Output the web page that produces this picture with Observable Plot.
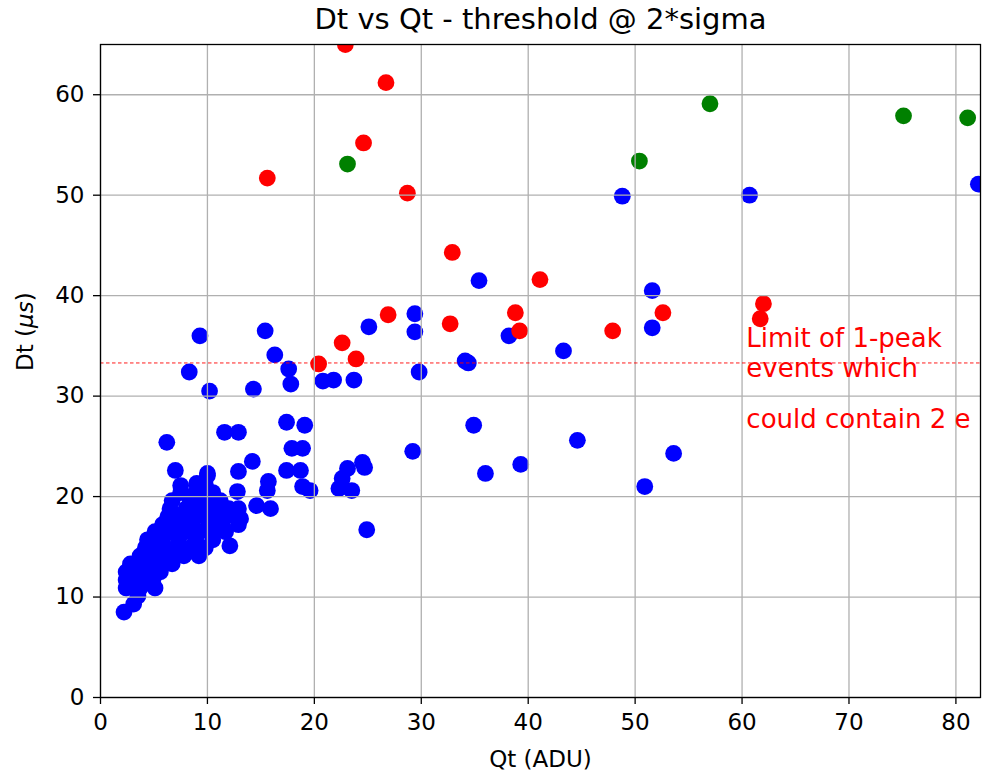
<!DOCTYPE html>
<html>
<head>
<meta charset="utf-8">
<script src="https://cdn.jsdelivr.net/npm/d3@7"></script>
<script src="https://cdn.jsdelivr.net/npm/@observablehq/plot@0.6"></script>
<style>
  body { margin: 0; background: #fff; }
  #chart svg { display: block; }
</style>
</head>
<body>
<div id="chart"></div>
<script>
// ---- Data ----
const blueQt = [
  48.8, 60.7, 82.1, 51.6, 51.6, 53.6, 50.9, 35.4, 25.1, 29.4, 29.4, 38.2, 43.3, 34.1, 34.4, 29.8, 34.9, 36.0, 39.3, 44.6, 29.2, 24.9,
  9.3, 8.3, 10.2, 15.4, 16.3, 17.6, 17.8, 14.3, 20.8, 21.8, 23.7,
  17.4, 19.1, 17.9, 18.9, 17.4, 18.7, 18.9, 19.6,
  24.5, 24.7, 23.1, 22.6, 22.3, 23.5,
  6.2, 11.6, 12.9, 14.2, 12.9, 15.7, 15.6, 12.8, 14.6, 15.9, 7.0, 10.0, 7.5, 9.0, 10.4, 13.1, 12.1,
  2.2, 3.1, 3.5, 2.4, 3.7, 5.1, 2.4, 3.7, 4.9, 2.4, 3.6, 4.7, 5.6, 2.8, 4.2, 5.4, 6.7,
  3.7, 5.1, 6.5, 7.8, 9.2, 4.2, 5.6, 7.0, 8.4, 9.8, 4.4, 5.8, 7.3, 8.9, 10.5,
  5.1, 6.5, 7.9, 9.3, 10.7, 11.7, 5.8, 7.3, 8.6, 10.1, 11.4, 12.9,
  6.3, 7.6, 8.9, 10.3, 11.7, 6.5, 8.0, 9.3, 10.7, 12.0, 12.9,
  6.7, 8.4, 9.8, 11.2, 7.5, 8.9, 10.5, 9.8, 10.0
];
const blueDt = [
  49.9, 50.0, 51.1, 40.5, 36.8, 24.3, 21.0, 41.5, 36.9, 38.2, 36.4, 36.0, 34.5, 33.5, 33.3, 32.4, 27.1, 22.3, 23.2, 25.6, 24.5, 16.7,
  36.0, 32.4, 30.5, 36.5, 34.1, 32.7, 31.2, 30.7, 31.5, 31.6, 31.6,
  27.4, 27.1, 24.8, 24.8, 22.6, 22.6, 21.0, 20.6,
  23.4, 22.9, 22.8, 21.8, 20.8, 20.6,
  25.4, 26.4, 26.4, 23.5, 22.5, 21.5, 20.6, 20.5, 19.1, 18.8, 22.6, 22.3, 21.1, 21.3, 20.0, 17.8, 15.1,
  8.5, 9.3, 10.1, 10.9, 10.9, 10.9, 11.7, 11.7, 11.7, 12.5, 12.5, 12.5, 12.5, 13.3, 13.3, 13.3, 13.3,
  14.1, 14.1, 14.1, 14.1, 14.1, 14.9, 14.9, 14.9, 14.9, 14.9, 15.7, 15.7, 15.7, 15.7, 15.7,
  16.5, 16.5, 16.5, 16.5, 16.5, 16.5, 17.2, 17.2, 17.2, 17.2, 17.2, 17.2,
  18.0, 18.0, 18.0, 18.0, 18.0, 18.8, 18.8, 18.8, 18.8, 18.8, 18.8,
  19.6, 19.6, 19.6, 19.6, 20.4, 20.4, 20.4, 21.2, 22.1
];
const redQt = [22.9, 26.7, 24.6, 15.6, 28.7, 32.9, 41.1, 26.9, 32.7, 38.8, 39.2, 47.9, 52.6, 62.0, 61.7, 22.6, 23.9, 20.4];
const redDt = [65.0, 61.2, 55.2, 51.7, 50.2, 44.3, 41.6, 38.1, 37.2, 38.3, 36.5, 36.5, 38.3, 39.2, 37.7, 35.3, 33.7, 33.2];
const greenQt = [23.1, 50.4, 57.0, 75.1, 81.1];
const greenDt = [53.1, 53.4, 59.1, 57.9, 57.7];

const xTicks = [0, 10, 20, 30, 40, 50, 60, 70, 80];
const yTicks = [0, 10, 20, 30, 40, 50, 60];
const limitDt = 33.3;
const noteQt = 60.4;
const noteLines = ["Limit of 1-peak", "events which", "could contain 2 e"];
const noteDt = [34.9, 31.9, 26.85];
const titleText = "Dt vs Qt - threshold @ 2*sigma";
const xLabel = "Qt (ADU)";
const yLabel = "Dt (μs)";

// ---- Tables built from the arrays ----
const toRows = (qs, ds) => qs.map((q, i) => ({qt: q, dt: ds[i]}));
const blue = toRows(blueQt, blueDt);
const red = toRows(redQt, redDt);
const green = toRows(greenQt, greenDt);
const notes = noteLines.map((t, i) => ({t, qt: noteQt, dt: noteDt[i]}));

const font = "DejaVu Sans, Liberation Sans, sans-serif";

const chart = Plot.plot({
  width: 982,
  height: 775,
  marginLeft: 100,
  marginRight: 2,
  marginTop: 44,
  marginBottom: 78,
  style: {fontFamily: font, fontSize: "23px", color: "#000", background: "#fff", overflow: "hidden"},
  x: {domain: [0, 82.3]},
  y: {domain: [0, 65]},
  marks: [
    Plot.dot(blue, {x: "qt", y: "dt", r: 8.4, fill: "#0000ff", stroke: null, clip: true}),
    Plot.dot(red, {x: "qt", y: "dt", r: 8.4, fill: "#ff0000", stroke: null, clip: true}),
    Plot.dot(green, {x: "qt", y: "dt", r: 8.4, fill: "#008000", stroke: null, clip: true}),
    Plot.gridX(xTicks, {stroke: "#b0b0b0", strokeOpacity: 1, strokeWidth: 1.3}),
    Plot.gridY(yTicks, {stroke: "#b0b0b0", strokeOpacity: 1, strokeWidth: 1.3}),
    Plot.ruleY([limitDt], {stroke: "#ff0000", strokeWidth: 0.9, strokeDasharray: "3.5,2.5"}),
    Plot.frame({stroke: "#000", strokeWidth: 1.3}),
    Plot.axisX(xTicks, {tickSize: 7, tickPadding: 9, label: null, fontSize: 23, strokeWidth: 1.3}),
    Plot.axisY(yTicks, {tickSize: 7, tickPadding: 9, label: null, fontSize: 23, strokeWidth: 1.3}),
    Plot.text(notes, {x: "qt", y: "dt", text: "t", fill: "#ff0000", fontSize: 26, textAnchor: "start", lineAnchor: "bottom"}),
    Plot.text([titleText], {text: d => d, frameAnchor: "top", lineAnchor: "bottom", dy: -16, fontSize: 29}),
    Plot.text([xLabel], {text: d => d, frameAnchor: "bottom", lineAnchor: "bottom", dy: 69, fontSize: 23}),
    Plot.text([yLabel], {text: d => d, frameAnchor: "left", lineAnchor: "bottom", rotate: -90, dx: -68, fontSize: 23})
  ]
});

// italic "μs" in the y label, as in the reference
chart.querySelectorAll("text").forEach(el => {
  if (el.textContent === yLabel) {
    el.textContent = "";
    const ns = "http://www.w3.org/2000/svg";
    const a = document.createElementNS(ns, "tspan"); a.textContent = "Dt (";
    const b = document.createElementNS(ns, "tspan"); b.textContent = "μs"; b.setAttribute("font-style", "italic");
    const c = document.createElementNS(ns, "tspan"); c.textContent = ")";
    el.append(a, b, c);
  }
});

document.getElementById("chart").append(chart);
</script>
</body>
</html>
